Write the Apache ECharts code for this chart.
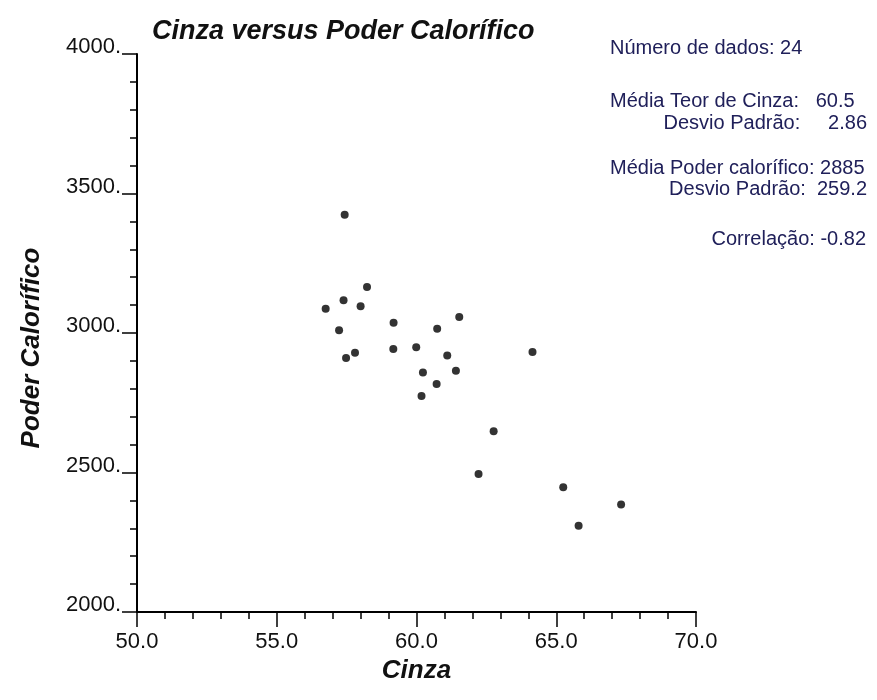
<!DOCTYPE html>
<html>
<head>
<meta charset="utf-8">
<script src="https://cdn.jsdelivr.net/npm/echarts@6/dist/echarts.min.js"></script>
<style>
  html, body { margin: 0; padding: 0; background: #fff; }
  #main { width: 877px; height: 700px; }
</style>
</head>
<body>
<div id="main"></div>
<script>
// dados
var cinza = [57.43, 58.23, 57.39, 56.75, 58.00, 59.18, 61.53, 60.74, 57.23, 59.17, 59.99, 57.80,
             57.48, 61.10, 64.15, 60.23, 61.41, 60.72, 60.18, 62.76, 62.22, 65.25, 67.32, 65.80];
var poder = [3424, 3165, 3117, 3087, 3096, 3037, 3057, 3015, 3010, 2943, 2949, 2929,
             2910, 2919, 2932, 2858, 2865, 2817, 2774, 2648, 2495, 2447, 2385, 2309];
var xTicks = ['50.0', '55.0', '60.0', '65.0', '70.0'];
var yTicks = ['2000.', '2500.', '3000.', '3500.', '4000.'];
var statsLeft = ['Número de dados: 24', 'Média Teor de Cinza:   60.5', 'Média Poder calorífico: 2885'];
var statsRight = ['Desvio Padrão:     2.86', 'Desvio Padrão:  259.2', 'Correlação: -0.82'];

var fonte = '"Liberation Sans", Arial, Helvetica, sans-serif';
var corTexto = '#20205a';

var pontos = [];
for (var i = 0; i < cinza.length; i++) {
    pontos.push([cinza[i], poder[i]]);
}

var myChart = echarts.init(document.getElementById('main'));

var option = {
    backgroundColor: '#fff',
    animation: false,
    title: {
        text: 'Cinza versus Poder Calorífico',
        left: 147,
        top: 13,
        textStyle: {
            fontFamily: fonte,
            fontStyle: 'italic',
            fontWeight: 'bold',
            fontSize: 27,
            color: '#111'
        }
    },
    grid: {
        left: 137,
        right: 181,
        top: 54,
        bottom: 88
    },
    xAxis: {
        type: 'value',
        min: 50,
        max: 70,
        interval: 5,
        name: 'Cinza',
        nameLocation: 'middle',
        nameGap: 39,
        nameTextStyle: {
            fontFamily: fonte,
            fontStyle: 'italic',
            fontWeight: 'bold',
            fontSize: 26,
            color: '#111'
        },
        splitLine: { show: false },
        axisLine: { lineStyle: { color: '#000', width: 2 } },
        axisTick: { length: 15, lineStyle: { color: '#000', width: 1.5 } },
        minorTick: { show: true, splitNumber: 5, length: 7, lineStyle: { color: '#000', width: 1.5 } },
        axisLabel: {
            margin: 19,
            fontFamily: fonte,
            fontSize: 22,
            color: '#111',
            formatter: function (v) { return xTicks[Math.round((v - 50) / 5)]; }
        }
    },
    yAxis: {
        type: 'value',
        min: 2000,
        max: 4000,
        interval: 500,
        name: 'Poder Calorífico',
        nameLocation: 'middle',
        nameGap: 92,
        nameTextStyle: {
            fontFamily: fonte,
            fontStyle: 'italic',
            fontWeight: 'bold',
            fontSize: 26,
            color: '#111',
            padding: [0, 30, 0, 0]
        },
        splitLine: { show: false },
        axisLine: { show: true, lineStyle: { color: '#000', width: 2 } },
        axisTick: { show: true, length: 15, lineStyle: { color: '#000', width: 1.5 } },
        minorTick: { show: true, splitNumber: 5, length: 7, lineStyle: { color: '#000', width: 1.5 } },
        axisLabel: {
            margin: 16,
            fontFamily: fonte,
            fontSize: 22,
            color: '#111',
            verticalAlign: 'bottom',
            lineHeight: 14,
            formatter: function (v) { return yTicks[Math.round((v - 2000) / 500)]; }
        }
    },
    graphic: [
        { type: 'text', left: 610, top: 38, style: { text: statsLeft[0], font: '20px ' + fonte, fill: corTexto } },
        { type: 'text', left: 610, top: 91, style: { text: statsLeft[1], font: '20px ' + fonte, fill: corTexto } },
        { type: 'text', right: 10, top: 113, style: { text: statsRight[0], font: '20px ' + fonte, fill: corTexto } },
        { type: 'text', left: 610, top: 158, style: { text: statsLeft[2], font: '20px ' + fonte, fill: corTexto } },
        { type: 'text', right: 10, top: 179, style: { text: statsRight[1], font: '20px ' + fonte, fill: corTexto } },
        { type: 'text', right: 11, top: 229, style: { text: statsRight[2], font: '20px ' + fonte, fill: corTexto } }
    ],
    series: [{
        type: 'scatter',
        data: pontos,
        symbol: 'circle',
        symbolSize: 8,
        itemStyle: { color: '#000' }
    }]
};

myChart.setOption(option);
</script>
</body>
</html>
